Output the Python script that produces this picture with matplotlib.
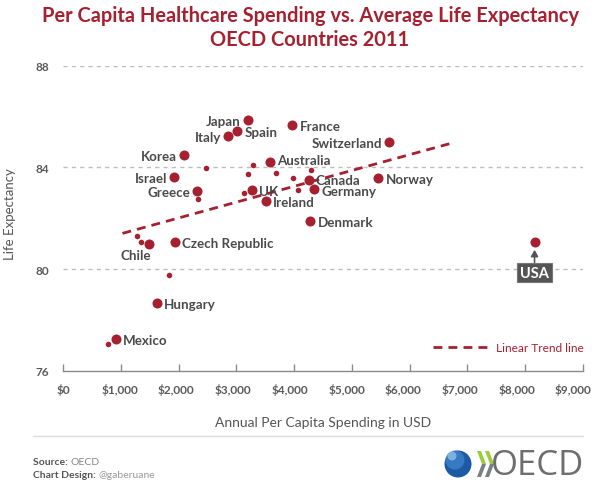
import matplotlib
matplotlib.use('Agg')
import matplotlib.pyplot as plt
from matplotlib.patches import Circle, Polygon
import matplotlib.lines as mlines

# ---------------- data ----------------
countries = ["Japan", "France", "Italy", "Spain", "Switzerland", "Korea", "Australia",
             "Israel", "Norway", "Canada", "Germany", "Greece", "UK", "Ireland",
             "Denmark", "Czech Republic", "Chile", "Hungary", "Mexico", "USA"]
spending = [3198, 3971, 2852, 3018, 5645, 2100, 3584,
            1922, 5460, 4254, 4346, 2320, 3278, 3515,
            4282, 1934, 1489, 1633, 913, 8161]
life_exp = [85.87, 85.68, 85.24, 85.42, 85.01, 84.50, 84.21,
            83.61, 83.58, 83.51, 83.16, 83.09, 83.12, 82.69,
            81.89, 81.06, 80.98, 78.69, 77.24, 81.09]

other_spending = [2471, 3295, 3198, 3688, 4300, 3988, 4064, 2338, 3134, 1276, 1351, 1830, 774]
other_life_exp = [83.98, 84.09, 83.76, 83.78, 83.89, 83.58, 83.13, 82.76, 82.99, 81.30, 81.06, 79.79, 77.08]

trend_x = [1030, 6700]
trend_y = [81.41, 84.94]

x_ticks = [0, 1000, 2000, 3000, 4000, 5000, 6000, 7000, 8000, 9000]
x_tick_labels = ["$0", "$1,000", "$2,000", "$3,000", "$4,000", "$5,000",
                 "$6,000", "$7,000", "$8,000", "$9,000"]
y_ticks = [76, 80, 84, 88]
y_tick_labels = ["76", "80", "84", "88"]

# label placement (style, not data)
left_labels = {"Japan", "Italy", "Switzerland", "Korea", "Israel", "Greece"}
label_dy = {"Australia": 3, "Germany": -1.5, "Canada": 1}

RED = "#a6202f"
TXT = "#4a4a4a"
GRID = "#bdbdbd"
TICKC = "#5a5a5a"
FONT = "Lato"

W, H = 599, 489
fig = plt.figure(figsize=(W / 100, H / 100), dpi=100)
fig.patch.set_facecolor("white")

L, R, T, B = 63, 583, 66.7, 372
ax = fig.add_axes([L / W, 1 - B / H, (R - L) / W, (B - T) / H])
ax.set_xlim(0, 9000)
ax.set_ylim(76, 88)
ax.set_facecolor("white")

for s in ["top", "right", "left"]:
    ax.spines[s].set_visible(False)
ax.spines["bottom"].set_color("#8a8a8a")
ax.spines["bottom"].set_linewidth(1.0)

for yv in [80, 84, 88]:
    ax.axhline(yv, color=GRID, lw=1.0, ls=(0, (3, 3)), zorder=0)

# x ticks: marks on the axis, labels drawn slightly compressed as in the original design
ax.set_xticks(x_ticks)
ax.set_xticklabels([])
ax.tick_params(axis="x", direction="in", length=5, width=1.0, color="#8a8a8a")
xt = ax.get_xaxis_transform()
for i, (tv, tl) in enumerate(zip(x_ticks, x_tick_labels)):
    ax.text(tv * 0.9813, -0.058, tl, transform=xt, ha="center", va="center",
            fontfamily=FONT, fontsize=8.5, color=TICKC, fontweight="bold")

ax.set_yticks(y_ticks)
ax.set_yticklabels(y_tick_labels, fontfamily=FONT, fontsize=8.5, color=TICKC, fontweight="bold")
ax.tick_params(axis="y", length=0, pad=10)

ax.set_xlabel("Annual Per Capita Spending in USD", fontfamily=FONT, fontsize=10,
              color="#555555")
ax.xaxis.set_label_coords(0.5, -0.148)
ax.set_ylabel("Life Expectancy", fontfamily=FONT, fontsize=9.5, color="#555555")
ax.yaxis.set_label_coords(-0.09, 0.518)

# trend line
ax.plot(trend_x, trend_y, color=RED, lw=2.0, ls=(0, (3.2, 2.2)), zorder=2)

# dots
ax.scatter(other_spending, other_life_exp, s=16, color=RED, zorder=3, linewidths=0)
ax.scatter(spending, life_exp, s=52, color=RED, zorder=3, linewidths=0)

LFS = 9.6
for c, xv, yv in zip(countries, spending, life_exp):
    if c == "USA":
        ax.annotate(c, xy=(xv, yv), xytext=(0, -31), textcoords="offset pixels",
                    ha="center", va="center", fontfamily=FONT, fontweight="bold",
                    fontsize=10.5, color="white",
                    bbox=dict(boxstyle="square,pad=0.18", fc="#555555", ec="#777777", lw=0.8),
                    arrowprops=dict(arrowstyle="-|>,head_length=0.35,head_width=0.2",
                                    color="#555555", lw=1.2, shrinkA=0, shrinkB=6),
                    zorder=4)
        continue
    dy = label_dy.get(c, 0)
    if c == "Chile":
        ax.annotate(c, xy=(xv, yv), xytext=(-13, -10), textcoords="offset pixels",
                    ha="center", va="center_baseline", fontfamily=FONT,
                    fontweight="bold", fontsize=LFS, color=TXT)
    elif c in left_labels:
        ax.annotate(c, xy=(xv, yv), xytext=(-7, dy), textcoords="offset pixels",
                    ha="right", va="center_baseline", fontfamily=FONT,
                    fontweight="bold", fontsize=LFS, color=TXT)
    else:
        ax.annotate(c, xy=(xv, yv), xytext=(7, dy), textcoords="offset pixels",
                    ha="left", va="center_baseline", fontfamily=FONT,
                    fontweight="bold", fontsize=LFS, color=TXT)

# legend (manual)
ax.add_line(mlines.Line2D([0.7115, 0.817], [0.0796, 0.0796], transform=ax.transAxes,
                          color=RED, lw=2.0, ls=(0, (3.2, 2.2))))
ax.text(0.8327, 0.0796, "Linear Trend line", transform=ax.transAxes, ha="left",
        va="center_baseline", fontfamily=FONT, fontsize=8.6, color=RED)

# title
fig.text(0.5 * (37 + 583) / W, 1 - 16 / H,
         "Per Capita Healthcare Spending vs. Average Life Expectancy",
         ha="center", va="center", fontfamily=FONT, fontweight="bold", fontsize=14.4, color=RED)
fig.text(0.5 * (37 + 583) / W, 1 - 39.5 / H, "OECD Countries 2011",
         ha="center", va="center", fontfamily=FONT, fontweight="bold", fontsize=14.4, color=RED)

# separator
fig.add_artist(mlines.Line2D([33 / W, 583 / W], [1 - 437 / H, 1 - 437 / H],
                             color="#dddddd", lw=1.0))

# footer
t1 = fig.text(33 / W, 1 - 462 / H, "Source: ", ha="left", va="center_baseline",
              fontfamily=FONT, fontweight="bold", fontsize=7.5, color="#555555")
ax.annotate("OECD", xy=(1, 0), xycoords=t1, va="bottom", ha="left",
            fontfamily=FONT, fontsize=7.5, color="#888888", annotation_clip=False)
t2 = fig.text(33 / W, 1 - 475 / H, "Chart Design: ", ha="left", va="center_baseline",
              fontfamily=FONT, fontweight="bold", fontsize=7.5, color="#555555")
ax.annotate("@gaberuane", xy=(1, 0), xycoords=t2, va="bottom", ha="left",
            fontfamily=FONT, fontsize=7.5, color="#999999", annotation_clip=False)

# OECD logo
lax = fig.add_axes([440 / W, 1 - 485 / H, 145 / W, 40 / H])
lax.set_xlim(440, 585)
lax.set_ylim(485, 445)
lax.set_aspect("equal")
lax.axis("off")
lax.add_patch(Circle((458, 465), 13.5, fc="#1c5aa6", ec="none"))
lax.add_patch(Circle((455, 461), 9.5, fc="#3d83c9", ec="none", alpha=0.8))
lax.add_patch(Circle((452, 457), 4.5, fc="#8cc0ea", ec="none", alpha=0.8))
for x0 in (477, 485):
    lax.add_patch(Polygon([[x0, 452], [x0 + 4, 452], [x0 + 9, 465], [x0 + 5, 465]],
                          closed=True, fc="#9ccc3c", ec="none"))
    lax.add_patch(Polygon([[x0 + 5, 465], [x0 + 9, 465], [x0 + 4, 478], [x0, 478]],
                          closed=True, fc="#7a7f80", ec="none"))
lax.text(584, 466, "OECD", ha="right", va="center", fontfamily="Open Sans",
         fontsize=25, color="#6e6e6e")

fig.savefig("out.png", dpi=100, facecolor="white")
